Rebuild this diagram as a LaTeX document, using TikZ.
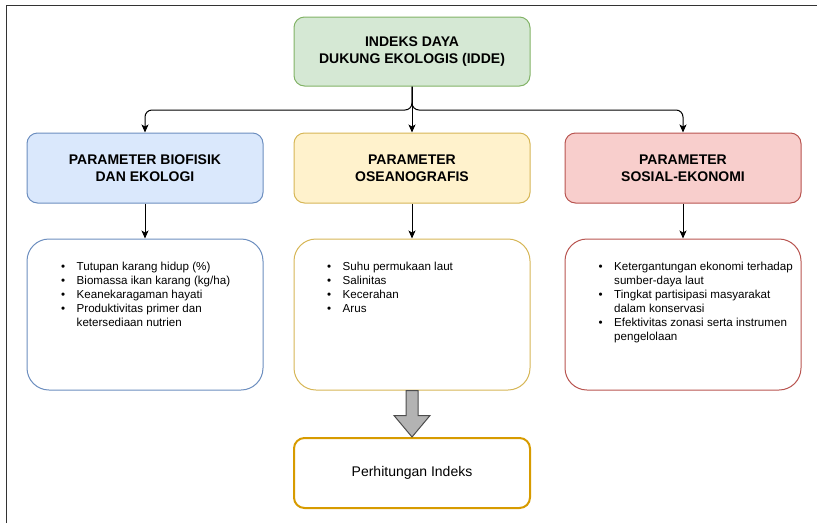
\documentclass[tikz,border=0pt]{standalone}
\usepackage{fontspec}
\setmainfont{Liberation Sans}
\usetikzlibrary{arrows.meta,calc}

\definecolor{greenfill}{HTML}{D5E8D4}\definecolor{greenline}{HTML}{82B366}
\definecolor{bluefill}{HTML}{DAE8FC}\definecolor{blueline}{HTML}{6C8EBF}
\definecolor{yellowfill}{HTML}{FFF2CC}\definecolor{yellowline}{HTML}{D6B656}
\definecolor{redfill}{HTML}{F8CECC}\definecolor{redline}{HTML}{B85450}
\definecolor{orangeline}{HTML}{D79B00}
\definecolor{framegray}{HTML}{333333}
\definecolor{blockfill}{HTML}{B3B3B3}
\definecolor{blockline}{HTML}{4D4D4D}

\begin{document}
\begin{tikzpicture}[x=1pt,y=-1pt,
  titlebox/.style={draw, line width=1pt, rounded corners=10.5pt,
    minimum width=236pt, minimum height=70pt, inner sep=0pt,
    align=center, font=\fontsize{14}{16.8}\selectfont\bfseries},
  listbox/.style={draw, line width=1pt, rounded corners=22pt,
    minimum width=236pt, minimum height=151pt, inner sep=0pt},
  listtext/.style={anchor=base west, inner sep=0pt,
    font=\fontsize{11.6}{14}\selectfont},
  conn/.style={draw=black, line width=1pt,
    -{Stealth[length=8pt,width=7pt,inset=2pt]}},
]
\useasboundingbox (0,0) rectangle (817,523);

% frame edges
\draw[framegray, line width=1.5pt] (6.5,523) -- (6.5,5.5) -- (817,5.5);

% index box
\node[titlebox, fill=greenfill, draw=greenline, minimum height=69pt]
  (idde) at (412,51.5) {INDEKS DAYA\\DUKUNG EKOLOGIS (IDDE)};

% parameter groups
\node[titlebox, fill=bluefill, draw=blueline] (bio) at (145,168)
  {PARAMETER BIOFISIK\\DAN EKOLOGI};
\node[titlebox, fill=yellowfill, draw=yellowline] (oseano) at (412,168)
  {PARAMETER\\OSEANOGRAFIS};
\node[titlebox, fill=redfill, draw=redline] (sosek) at (683,168)
  {PARAMETER\\SOSIAL-EKONOMI};

% indicator lists
\node[listbox, draw=blueline] (biolist) at (145,314.5) {};
\node[listbox, draw=yellowline] (oseanolist) at (412,314.5) {};
\node[listbox, draw=redline] (soseklist) at (683,314.5) {};

\node[listtext] (biotext) at (61,270) {%
  \begin{tabular}[t]{@{}p{15.5pt}@{}l@{}}
  \textbullet & Tutupan karang hidup (\%)\\
  \textbullet & Biomassa ikan karang (kg/ha)\\
  \textbullet & Keanekaragaman hayati\\
  \textbullet & Produktivitas primer dan\\
              & ketersediaan nutrien
  \end{tabular}};
\node[listtext] (oseanotext) at (327,270) {%
  \begin{tabular}[t]{@{}p{15.5pt}@{}l@{}}
  \textbullet & Suhu permukaan laut\\
  \textbullet & Salinitas\\
  \textbullet & Kecerahan\\
  \textbullet & Arus
  \end{tabular}};
\node[listtext] (sosektext) at (598.5,270) {%
  \begin{tabular}[t]{@{}p{15.5pt}@{}l@{}}
  \textbullet & Ketergantungan ekonomi terhadap\\
              & sumber-daya laut\\
  \textbullet & Tingkat partisipasi masyarakat\\
              & dalam konservasi\\
  \textbullet & Efektivitas zonasi serta instrumen\\
              & pengelolaan
  \end{tabular}};

% result box
\node[draw=orangeline, line width=2pt, rounded corners=10.5pt,
  minimum width=236pt, minimum height=70pt, inner sep=0pt,
  font=\fontsize{14}{16.8}\selectfont] (hitung) at (412,473)
  {Perhitungan Indeks};

% connectors from the index to the parameter groups
\coordinate (bus) at (412,110);
\draw[conn, rounded corners=7pt] (idde.south) -- (bus) -| (bio.north);
\draw[conn, rounded corners=7pt] (idde.south) -- (bus) -| (sosek.north);
\draw[conn] (idde.south) -- (oseano.north);

% connectors from groups to their lists
\draw[conn] (bio.south) -- (biolist.north);
\draw[conn] (oseano.south) -- (oseanolist.north);
\draw[conn] (sosek.south) -- (soseklist.north);

% block arrow to the calculation
\draw[fill=blockfill, draw=blockline, line width=1pt, line join=miter]
  ($(oseanolist.south)+(-6,0)$) -- ($(oseanolist.south)+(6,0)$)
  -- ($(oseanolist.south)+(6,25)$) -- ($(oseanolist.south)+(18,25)$)
  -- (hitung.north)
  -- ($(oseanolist.south)+(-18,25)$) -- ($(oseanolist.south)+(-6,25)$)
  -- cycle;
\end{tikzpicture}
\end{document}
